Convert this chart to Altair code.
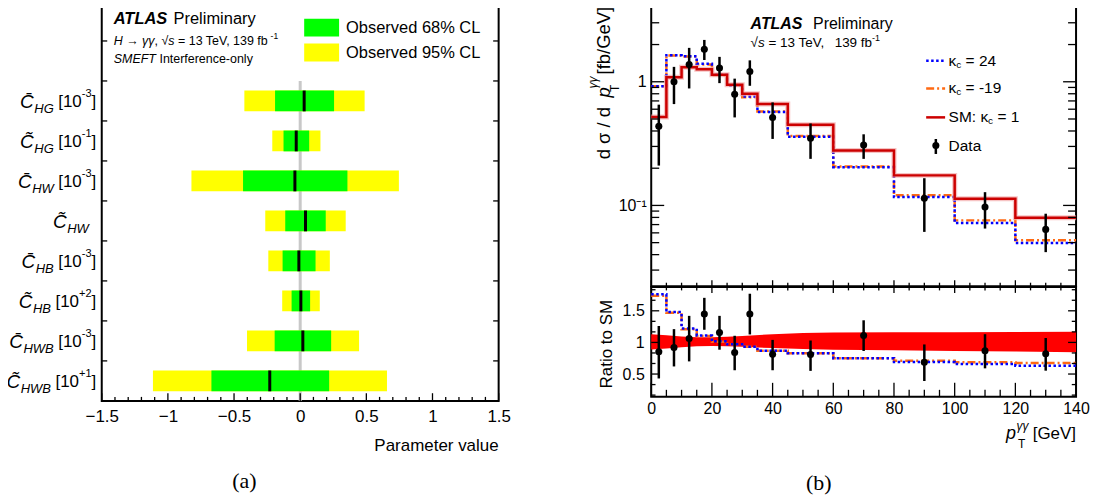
import altair as alt
import pandas as pd

SANS = "Liberation Sans"
SERIF = "Liberation Serif"

# ======================= panel (a): SMEFT coefficient limits =======================
coef_symbol = ["C\u0304", "C\u0303", "C\u0304", "C\u0303", "C\u0304", "C\u0303", "C\u0304", "C\u0303"]
coef_sub = ["HG", "HG", "HW", "HW", "HB", "HB", "HWB", "HWB"]
coef_pow = ["-3", "-1", "-3", "", "-3", "+2", "-3", "+1"]
best_fit = [0.03, -0.03, -0.04, 0.04, -0.01, 0.005, 0.02, -0.23]
cl68_lo = [-0.19, -0.126, -0.432, -0.113, -0.133, -0.065, -0.193, -0.671]
cl68_hi = [0.256, 0.068, 0.357, 0.193, 0.116, 0.075, 0.234, 0.219]
cl95_lo = [-0.422, -0.211, -0.822, -0.264, -0.241, -0.136, -0.402, -1.113]
cl95_hi = [0.487, 0.153, 0.746, 0.344, 0.224, 0.148, 0.445, 0.656]
xa_ticks = [-1.5, -1.0, -0.5, 0.0, 0.5, 1.0, 1.5]

# ======================= panel (b): pT(gamma gamma) =======================
bin_edges = [0, 5, 10, 15, 20, 25, 30, 35, 45, 60, 80, 100, 120, 140]
xs_sm = [0.52, 1.09, 1.31, 1.26, 1.14, 0.946, 0.80, 0.66, 0.45, 0.278, 0.175, 0.113, 0.0795]
xs_k24 = [0.92, 1.64, 1.61, 1.40, 1.14, 0.93, 0.76, 0.57, 0.36, 0.204, 0.117, 0.072, 0.0497]
xs_km19 = [0.92, 1.63, 1.60, 1.38, 1.13, 0.93, 0.75, 0.575, 0.365, 0.206, 0.121, 0.0757, 0.0522]
data_x = [2.5, 7.5, 12.5, 17.5, 22.5, 27.5, 32.5, 40, 52.5, 70, 90, 110, 130]
data_y = [0.436, 1.0, 1.38, 1.83, 1.29, 0.794, 1.21, 0.515, 0.349, 0.308, 0.1145, 0.0969, 0.064]
data_hi = [0.653, 1.32, 1.88, 2.18, 1.59, 1.06, 1.49, 0.681, 0.46, 0.376, 0.166, 0.128, 0.0857]
data_lo = [0.21, 0.66, 0.883, 1.50, 0.975, 0.515, 0.928, 0.345, 0.238, 0.238, 0.0611, 0.065, 0.0419]
ratio_k24 = [1.76, 1.48, 1.22, 1.11, 1.02, 0.97, 0.93, 0.87, 0.83, 0.75, 0.69, 0.66, 0.63]
ratio_km19 = [1.74, 1.47, 1.21, 1.10, 1.01, 0.97, 0.93, 0.87, 0.83, 0.75, 0.71, 0.685, 0.675]
ratio_y = [0.853, 0.92, 1.063, 1.45, 1.158, 0.842, 1.45, 0.811, 0.81, 1.11, 0.685, 0.868, 0.82]
ratio_hi = [1.26, 1.21, 1.42, 1.705, 1.42, 1.105, 1.77, 1.04, 1.03, 1.35, 0.968, 1.13, 1.07]
ratio_lo = [0.43, 0.62, 0.70, 1.2, 0.885, 0.56, 1.126, 0.56, 0.55, 0.865, 0.39, 0.59, 0.553]
band_x = [0, 5, 10, 15, 20, 25, 30, 40, 50, 60, 80, 100, 120, 140]
band_lo = [0.89, 0.905, 0.925, 0.94, 0.945, 0.94, 0.93, 0.91, 0.895, 0.885, 0.875, 0.865, 0.855, 0.845]
band_hi = [1.13, 1.115, 1.095, 1.08, 1.08, 1.09, 1.10, 1.13, 1.15, 1.155, 1.16, 1.16, 1.165, 1.17]
xb_ticks = [0, 20, 40, 60, 80, 100, 120, 140]

# ======================= helpers =======================
_AW = {c: 556 for c in "0123456789"}
_AW.update({" ": 278, "%": 889, "(": 333, ")": 333, "+": 584, ",": 278, "-": 333, ".": 278,
            "/": 278, ":": 278, "=": 584, "[": 278, "]": 278,
            "A": 667, "B": 667, "C": 722, "D": 722, "E": 667, "F": 611, "G": 778, "H": 722,
            "I": 278, "L": 556, "M": 833, "O": 778, "P": 667, "S": 667, "T": 611, "V": 667,
            "W": 944, "a": 556, "b": 556, "c": 500, "d": 556, "e": 556, "f": 278, "g": 556,
            "i": 222, "l": 222, "m": 833, "n": 556, "o": 556, "p": 556, "r": 333, "s": 500,
            "t": 278, "u": 556, "v": 500, "y": 500, "\u03b3": 500, "\u03c3": 600, "\u03ba": 500,
            "\u221a": 549, "\u2192": 1000, "\u0303": 0, "\u0304": 0})


def tw(s, size, bold=False):
    w = sum(_AW.get(ch, 556) for ch in s) * size / 1000.0
    return w * (1.06 if bold else 1.0)


_one = pd.DataFrame({"k": [0]})


def txt(s, x, y, size, style="normal", weight="normal", align="left",
        baseline="middle", angle=0, font=SANS):
    kw = dict(text=s, fontSize=size, fontStyle=style, fontWeight=weight,
              align=align, baseline=baseline, font=font, color="black")
    if angle:
        kw["angle"] = angle
    return alt.Chart(_one).mark_text(**kw).encode(x=alt.value(x), y=alt.value(y))


def chain(parts, x, y):
    """Left-to-right run of text pieces; leading spaces become explicit offsets."""
    out, pos = [], 0.0
    for s, size, style, weight, shift in parts:
        lead = len(s) - len(s.lstrip(" "))
        pos += lead * tw(" ", size)
        core = s.strip(" ")
        out.append(txt(core, x + pos, y + shift, size, style, weight))
        pos += tw(core, size, weight == "bold") + (len(s) - lead - len(core)) * tw(" ", size)
    return out


def vrules(vals, xenc, y0, y1, w=1.3):
    return alt.Chart(pd.DataFrame({"t": vals})).mark_rule(color="black", strokeWidth=w).encode(
        x=xenc("t"), y=alt.value(y0), y2=alt.value(y1))


def hrules(vals, yenc, x0, x1, w=1.3):
    return alt.Chart(pd.DataFrame({"t": vals})).mark_rule(color="black", strokeWidth=w).encode(
        y=yenc("t"), x=alt.value(x0), x2=alt.value(x1))


# ======================= panel (a) =======================
WL, HL = 398, 403.3
XLs = alt.Scale(domain=[-1.5, 1.5], nice=False, zero=False)
YLs = alt.Scale(domain=[-0.057, 10], reverse=True, nice=False, zero=False)
AXa = alt.Axis(values=xa_ticks, format=".1~f", labelFont=SANS, labelFontSize=17, labelColor="black",
               labelPadding=8, labelFlush=False, labelOverlap=False, ticks=False, domain=False,
               grid=False, title=None)


def xa(f):
    return alt.X(f, type="quantitative", scale=XLs, axis=AXa)


def ya(f):
    return alt.Y(f, type="quantitative", scale=YLs, axis=None)


def px2a(px):
    return -1.5 + px * 3.0 / WL


slots = [2.5 + i for i in range(len(coef_sub))]
dfa = pd.DataFrame({"slot": slots, "best": best_fit, "lo68": cl68_lo, "hi68": cl68_hi,
                    "lo95": cl95_lo, "hi95": cl95_hi})
dfa["yt"] = dfa["slot"] - 0.26
dfa["yb"] = dfa["slot"] + 0.26
base_a = alt.Chart(dfa)

zero_line = alt.Chart(pd.DataFrame({"x": [0.0], "y": [2.0], "y2": [10.0]})).mark_rule(
    color="#c8c8c8", strokeWidth=3).encode(x=xa("x"), y=ya("y"), y2="y2")
bar95 = base_a.mark_rect(color="#ffff00").encode(x=xa("lo95"), x2="hi95", y=ya("yt"), y2="yb")
bar68 = base_a.mark_rect(color="#00ff00").encode(x=xa("lo68"), x2="hi68", y=ya("yt"), y2="yb")
bestl = base_a.mark_rule(color="black", strokeWidth=3).encode(x=xa("best"), y=ya("yt"), y2="yb")

# coefficient labels (symbol, subscript, [10^n]) right-aligned left of the frame
parts = {"C": [], "sub": [], "br": [], "sup": []}
for i in range(len(coef_sub)):
    items = [("C", coef_symbol[i], tw(coef_symbol[i], 19) + 0.5),
             ("sub", coef_sub[i], tw(coef_sub[i], 13) + (4.5 if coef_pow[i] else 0))]
    if coef_pow[i]:
        items += [("br", "[10", tw("[10", 17)), ("sup", coef_pow[i], tw(coef_pow[i], 11)),
                  ("br", "]", tw("]", 17))]
    right = -5.5 if coef_pow[i] else -13
    pos = right - sum(w for _, _, w in items)
    for kind, s, w in items:
        parts[kind].append({"x": px2a(pos), "slot": slots[i], "t": s})
        pos += w

lab_style = {"C": (19, "italic", 1), "sub": (13, "italic", 8), "br": (17, "normal", 1),
             "sup": (11, "normal", -7)}
lab_layers = []
for kind, (size, style, dy) in lab_style.items():
    lab_layers.append(alt.Chart(pd.DataFrame(parts[kind])).mark_text(
        font=SANS, fontSize=size, fontStyle=style, align="left", baseline="middle", dy=dy,
        color="black").encode(x=xa("x"), y=ya("slot"), text="t:N"))

xa_minor = [k / 10 for k in range(-14, 15) if k % 5 != 0]
ticks_a = [
    vrules(xa_ticks, xa, HL, HL - 7.7), vrules(xa_minor, xa, HL, HL - 4),
    vrules(xa_ticks, xa, 0, 7.7), vrules(xa_minor, xa, 0, 4),
    hrules(list(range(1, 10)), ya, 0, 5.5), hrules(list(range(1, 10)), ya, WL, WL - 5.5),
]

legend_a = [
    alt.Chart(_one).mark_rect(color="#00ff00").encode(
        x=alt.value(203), x2=alt.value(238), y=alt.value(20), y2=alt.value(38)),
    alt.Chart(_one).mark_rect(color="#ffff00").encode(
        x=alt.value(203), x2=alt.value(238), y=alt.value(45), y2=alt.value(63)),
    txt("Observed 68% CL", 245, 29, 16.5),
    txt("Observed 95% CL", 245, 54, 16.5),
]
text_a = (
    chain([("ATLAS", 16.5, "italic", "bold", 0), (" Preliminary", 16.5, "normal", "normal", 0)], 12, 20.7)
    + chain([("H", 12.5, "italic", "normal", 0), (" \u2192 ", 12.5, "normal", "normal", 0),
             ("\u03b3\u03b3", 12.5, "italic", "normal", 0), (", \u221a", 12.5, "normal", "normal", 0),
             ("s", 12.5, "italic", "normal", 0), (" = 13 TeV, 139 fb", 12.5, "normal", "normal", 0),
             ("-1", 8.5, "normal", "normal", -4.5)], 12, 42.3)
    + chain([("SMEFT", 12.5, "italic", "normal", 0), (" Interference-only", 12.5, "normal", "normal", 0)],
            12, 60.7)
    + [txt("Parameter value", WL, 449, 17, align="right"),
       txt("(a)", 143, 484, 22, align="center", font=SERIF)]
)
anchor = alt.Chart(_one).mark_rule(strokeOpacity=0, strokeWidth=1).encode(
    x=alt.value(-99), x2=alt.value(-98), y=alt.value(0))

left = alt.layer(zero_line, bar95, bar68, bestl, *lab_layers, *ticks_a, *legend_a, *text_a,
                 anchor).properties(width=WL, height=HL)

# ======================= panel (b) upper =======================
WR, HU, HR = 426, 288.3, 110.2
XRs = alt.Scale(domain=[0, 140], nice=False, zero=False)
YUs = alt.Scale(type="log", domain=[0.02222, 4.697], nice=False)
YRs = alt.Scale(domain=[0.14, 1.878], nice=False, zero=False)
lab_common = dict(labelFont=SANS, labelFontSize=16, labelColor="black", labelFlush=False,
                  labelOverlap=False, ticks=False, domain=False, grid=False, title=None)
AXu_y = alt.Axis(values=[0.1, 1.0], labelExpr="datum.value > 0.5 ? '1' : '10\u207b\u00b9'",
                 labelPadding=5, **lab_common)
AXr_x = alt.Axis(values=xb_ticks, format="d", labelPadding=4, **lab_common)
AXr_y = alt.Axis(values=[0.5, 1.0, 1.5], format=".1~f", labelPadding=7, **lab_common)


def xu(f):
    return alt.X(f, type="quantitative", scale=XRs, axis=None)


def yu(f):
    return alt.Y(f, type="quantitative", scale=YUs, axis=AXu_y)


def xr(f):
    return alt.X(f, type="quantitative", scale=XRs, axis=AXr_x)


def yr(f):
    return alt.Y(f, type="quantitative", scale=YRs, axis=AXr_y)


def step_df(vals):
    return pd.DataFrame({"x": bin_edges, "y": list(vals) + [vals[-1]]})


BLUE, ORANGE, RED = "#0000ff", "#ff6a13", "#cc0000"
DOT, DASHDOT = [2.5, 2.5], [8, 3, 2, 3]

dfd = pd.DataFrame({"x": data_x, "y": data_y, "lo": data_lo, "hi": data_hi})
up_lines = [
    alt.Chart(step_df(xs_km19)).mark_line(interpolate="step-after", color=ORANGE, strokeWidth=2.5,
                                          strokeDash=DASHDOT).encode(x=xu("x"), y=yu("y")),
    alt.Chart(step_df(xs_k24)).mark_line(interpolate="step-after", color=BLUE, strokeWidth=2.5,
                                         strokeDash=DOT).encode(x=xu("x"), y=yu("y")),
    alt.Chart(step_df(xs_sm)).mark_line(interpolate="step-after", color="#f2a9a9", strokeWidth=5,
                                        opacity=0.7).encode(x=xu("x"), y=yu("y")),
    alt.Chart(step_df(xs_sm)).mark_line(interpolate="step-after", color=RED, strokeWidth=2.5).encode(
        x=xu("x"), y=yu("y")),
    alt.Chart(dfd).mark_rule(color="black", strokeWidth=2.5).encode(x=xu("x"), y=yu("lo"), y2="hi"),
    alt.Chart(dfd).mark_circle(color="black", size=50, opacity=1).encode(x=xu("x"), y=yu("y")),
]

xb_minor = [v for v in range(5, 140, 5) if v % 20 != 0]
yu_minor = [m * d for d in (0.01, 0.1, 1.0) for m in range(2, 10) if 0.0225 < m * d < 4.6]
ticks_u = [
    vrules(xb_ticks, xu, HU, HU - 6), vrules(xb_minor, xu, HU, HU - 3.5),
    vrules(xb_ticks, xu, 0, 6), vrules(xb_minor, xu, 0, 3.5),
    hrules([0.1, 1.0], yu, 0, 13), hrules(yu_minor, yu, 0, 8),
    hrules([0.1, 1.0], yu, WR, WR - 13), hrules(yu_minor, yu, WR, WR - 8),
]

legend_b = [
    alt.Chart(_one).mark_rule(color=BLUE, strokeWidth=2.5, strokeDash=DOT).encode(
        x=alt.value(275.7), x2=alt.value(294.7), y=alt.value(62.3)),
    alt.Chart(_one).mark_rule(color=ORANGE, strokeWidth=2.5, strokeDash=DASHDOT).encode(
        x=alt.value(275.7), x2=alt.value(294.7), y=alt.value(90)),
    alt.Chart(_one).mark_rule(color=RED, strokeWidth=2.5).encode(
        x=alt.value(275.7), x2=alt.value(294.7), y=alt.value(119)),
    alt.Chart(_one).mark_rule(color="black", strokeWidth=2.5).encode(
        x=alt.value(285.4), y=alt.value(140.7), y2=alt.value(155.7)),
    alt.Chart(_one).mark_circle(color="black", size=50, opacity=1).encode(
        x=alt.value(285.4), y=alt.value(147.3)),
]
text_b = (
    chain([("\u03ba", 15.5, "normal", "normal", 0), ("c", 10, "normal", "normal", 4),
           (" = 24", 15.5, "normal", "normal", 0)], 298.2, 62.3)
    + chain([("\u03ba", 15.5, "normal", "normal", 0), ("c", 10, "normal", "normal", 4),
             (" = -19", 15.5, "normal", "normal", 0)], 298.2, 90)
    + chain([("SM:", 15.5, "normal", "normal", 0), (" \u03ba", 15.5, "normal", "normal", 0),
             ("c", 10, "normal", "normal", 4), (" = 1", 15.5, "normal", "normal", 0)], 298.2, 119)
    + [txt("Data", 298.2, 147.3, 15.5)]
    + chain([("ATLAS", 16, "italic", "bold", 0), ("  Preliminary", 16, "normal", "normal", 0)], 99.6, 25.7)
    + chain([("\u221a", 13.5, "normal", "normal", 0), ("s", 13.5, "italic", "normal", 0),
             (" = 13 TeV,", 13.5, "normal", "normal", 0), ("  139 fb", 13.5, "normal", "normal", 0),
             ("-1", 9, "normal", "normal", -5)], 99.6, 44.7)
    # rotated y title: d sigma / d pT^yy [fb/GeV]
    + [txt("d \u03c3 / d", -47, 161, 18.5, angle=270),
       txt("p", -47, 99, 18.5, style="italic", angle=270),
       txt("T", -36, 90, 12, align="center", angle=270),
       txt("\u03b3\u03b3", -58, 84, 12, style="italic", align="center", angle=270),
       txt("[fb/GeV]", -47, 76, 18.5, angle=270)]
)

upper = alt.layer(*up_lines, *ticks_u, *legend_b, *text_b).properties(width=WR, height=HU)

# ======================= panel (b) ratio =======================
dfr = pd.DataFrame({"x": data_x, "y": ratio_y, "lo": ratio_lo, "hi": ratio_hi})
dfband = pd.DataFrame({"x": band_x, "lo": band_lo, "hi": band_hi})
ratio_layers = [
    alt.Chart(dfband).mark_area(color="#ff0000", opacity=1).encode(x=xr("x"), y=yr("lo"), y2="hi"),
    alt.Chart(step_df(ratio_km19)).mark_line(interpolate="step-after", color=ORANGE, strokeWidth=2.5,
                                             strokeDash=DASHDOT).encode(x=xr("x"), y=yr("y")),
    alt.Chart(step_df(ratio_k24)).mark_line(interpolate="step-after", color=BLUE, strokeWidth=2.5,
                                            strokeDash=DOT).encode(x=xr("x"), y=yr("y")),
    alt.Chart(dfr).mark_rule(color="black", strokeWidth=2.5).encode(x=xr("x"), y=yr("lo"), y2="hi"),
    alt.Chart(dfr).mark_circle(color="black", size=50, opacity=1).encode(x=xr("x"), y=yr("y")),
]
yr_major = [0.5, 1.0, 1.5]
yr_minor = [round(0.5 + k / 6.0, 4) for k in range(-2, 9) if k % 3 != 0]
ticks_r = [
    vrules(xb_ticks, xr, HR, HR - 14), vrules(xb_minor, xr, HR, HR - 7),
    vrules(xb_ticks, xr, 0, 6), vrules(xb_minor, xr, 0, 3.5),
    hrules(yr_major, yr, 0, 8), hrules(yr_minor, yr, 0, 4.3),
    hrules(yr_major, yr, WR, WR - 8), hrules(yr_minor, yr, WR, WR - 4.3),
]
gev_w = tw("[GeV]", 17)
x_title_start = WR - gev_w - 4.7 - 12 - tw("p", 18)
text_r = [
    txt("Ratio to SM", -44.5, 57.4, 17, align="center", angle=270),
    txt("p", x_title_start, 147.7, 18, style="italic"),
    txt("\u03b3\u03b3", x_title_start + 10.5, 139.7, 12, style="italic"),
    txt("T", x_title_start + 12, 157.4, 12, align="left"),
    txt("[GeV]", WR, 147.7, 17, align="right"),
    txt("(b)", 168, 196.7, 22, align="center", font=SERIF),
]
ratio = alt.layer(*ratio_layers, *ticks_r, *text_r).properties(width=WR, height=HR)

right = alt.vconcat(upper, ratio, spacing=0, bounds="flush")

chart = alt.hconcat(left, right, spacing=153, bounds="flush").properties(
    padding={"left": -6, "top": -12, "right": 4, "bottom": 0},
    background="white",
).configure_view(stroke="black", strokeWidth=2)

chart.save("out.html", embed_options={"renderer": "svg", "actions": False})
